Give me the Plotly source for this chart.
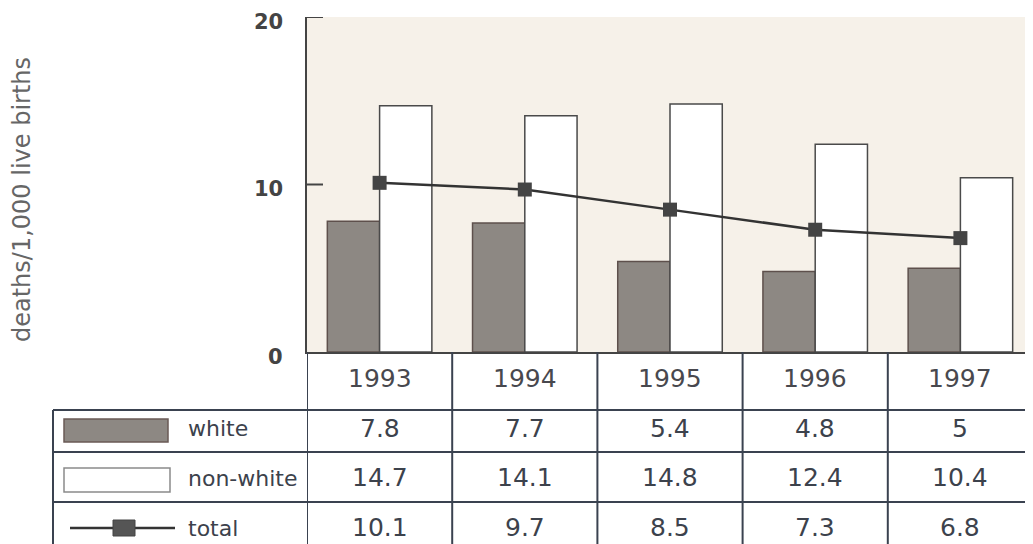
import plotly.graph_objects as go

years = ["1993", "1994", "1995", "1996", "1997"]
white = [7.8, 7.7, 5.4, 4.8, 5]
non_white = [14.7, 14.1, 14.8, 12.4, 10.4]
total = [10.1, 9.7, 8.5, 7.3, 6.8]
row_labels = ["white", "non-white", "total"]
y_ticks = [0, 10, 20]
y_title = "deaths/1,000 live births"

# page body has an 8px margin; figure sized so it fits the 1033x544 window
OFF = 8
W, H = 1033 - OFF, 544 - OFF


def px(xs):
    return (xs - OFF) / W


def py(ys):
    return (H - (ys - OFF)) / H


x_idx = list(range(len(years)))
FONT = "DejaVu Sans"
TXT = "#3c424c"
LINE = "#3a4250"

fig = go.Figure()
fig.add_trace(go.Bar(x=x_idx, y=white, name="white",
                     marker=dict(color="#8d8883", line=dict(color="#5e504c", width=1.5))))
fig.add_trace(go.Bar(x=x_idx, y=non_white, name="non-white",
                     marker=dict(color="#ffffff", line=dict(color="#4a4a4a", width=1.5))))
fig.add_trace(go.Scatter(x=x_idx, y=total, name="total", mode="lines+markers",
                         line=dict(color="#333333", width=2.5),
                         marker=dict(symbol="square", size=14, color="#444444")))

shapes = []
annotations = []

# y-axis tick marks (drawn inside the plot)
for t in y_ticks[1:]:
    shapes.append(dict(type="line", xref="paper", yref="y",
                       x0=px(306), x1=px(323), y0=t, y1=t,
                       line=dict(color="#444444", width=2)))

# table horizontal lines
for yy in [410, 452, 502]:
    shapes.append(dict(type="line", xref="paper", yref="paper",
                       x0=px(53), x1=1, y0=py(yy), y1=py(yy),
                       line=dict(color=LINE, width=2)))
# left border
shapes.append(dict(type="line", xref="paper", yref="paper",
                   x0=px(53), x1=px(53), y0=py(410), y1=0,
                   line=dict(color=LINE, width=2)))
# vertical column lines
for i in range(len(years)):
    shapes.append(dict(type="line", xref="x", yref="paper",
                       x0=i - 0.5, x1=i - 0.5, y0=py(352), y1=0,
                       line=dict(color=LINE, width=2)))

# legend swatches
shapes.append(dict(type="rect", xref="paper", yref="paper",
                   x0=px(64), x1=px(168), y0=py(442), y1=py(419),
                   fillcolor="#8d8883", line=dict(color="#6a5a55", width=1.5)))
shapes.append(dict(type="rect", xref="paper", yref="paper",
                   x0=px(64), x1=px(170), y0=py(492), y1=py(468),
                   fillcolor="#ffffff", line=dict(color="#8a8a8a", width=1.5)))
shapes.append(dict(type="line", xref="paper", yref="paper",
                   x0=px(70), x1=px(175), y0=py(528), y1=py(528),
                   line=dict(color="#333333", width=2.5)))
shapes.append(dict(type="rect", xref="paper", yref="paper",
                   x0=px(113), x1=px(135), y0=py(536), y1=py(520),
                   fillcolor="#555555", line=dict(color="#444444", width=1)))

# y title
annotations.append(dict(text=y_title, xref="paper", yref="paper", x=px(22), y=py(200),
                        xanchor="center", yanchor="middle", textangle=-90, showarrow=False,
                        font=dict(family=FONT, size=24, color="#666666")))

# y tick labels (drawn as text so the top one is not clipped)
for t in y_ticks:
    annotations.append(dict(text=f"<b>{t}</b>", xref="paper", yref="y", x=px(285), y=t,
                            xanchor="right", yanchor="middle", showarrow=False, yshift=-5,
                            font=dict(family=FONT, size=21, color="#444444")))

# row labels
for lab, yy in zip(row_labels, [428, 478, 528]):
    annotations.append(dict(text=lab, xref="paper", yref="paper", x=px(186), y=py(yy),
                            xanchor="left", yanchor="middle", showarrow=False,
                            font=dict(family=FONT, size=22, color=TXT)))

# header years and values
for i, yr in enumerate(years):
    annotations.append(dict(text=yr, xref="x", yref="paper", x=i, y=py(378),
                            xanchor="center", yanchor="middle", showarrow=False,
                            font=dict(family=FONT, size=25, color="#48484e")))
    for vals, yy in zip([white, non_white, total], [428, 477, 527]):
        annotations.append(dict(text=f"{vals[i]:g}", xref="x", yref="paper", x=i, y=py(yy),
                                xanchor="center", yanchor="middle", showarrow=False,
                                font=dict(family=FONT, size=25, color=TXT)))

fig.update_layout(
    width=W, height=H,
    margin=dict(l=0, r=0, t=0, b=0, autoexpand=False),
    paper_bgcolor="white",
    plot_bgcolor="#f6f1e9",
    showlegend=False,
    barmode="group",
    bargap=0.28,
    bargroupgap=0,
    shapes=shapes,
    annotations=annotations,
    xaxis=dict(domain=[px(307), 1], range=[-0.5, 4.5], showticklabels=False,
               showgrid=False, zeroline=False, showline=True, linecolor="#444444",
               linewidth=2, ticks="", automargin=False),
    yaxis=dict(domain=[py(352), py(17)], range=[0, 20], tickvals=y_ticks,
               showgrid=False, zeroline=False, showline=True, linecolor="#444444",
               linewidth=2, ticks="", showticklabels=False, automargin=False),
)

fig.write_html("out.html")
